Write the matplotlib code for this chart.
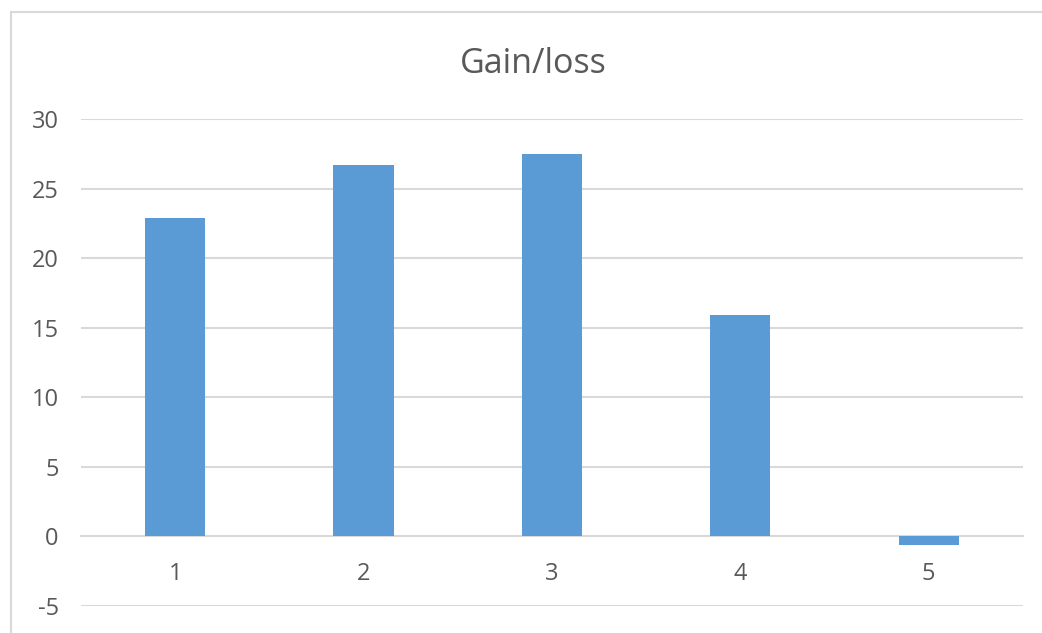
import numpy as np
import matplotlib.pyplot as plt
from matplotlib.patches import Rectangle

categories = ["1", "2", "3", "4", "5"]
values = [22.9, 26.7, 27.5, 15.9, -0.65]

plt.rcParams['font.family'] = ['Open Sans', 'DejaVu Sans']
plt.rcParams['axes.unicode_minus'] = False

fig = plt.figure(figsize=(10.42, 6.33), dpi=100)
ax = fig.add_axes([0.0777, 0.0427, 0.904, 0.7693])

x = np.arange(len(categories))
ax.bar(x, values, width=0.32, color="#5B9BD5", zorder=3)

ax.set_xlim(-0.5, len(categories) - 0.5)
ax.set_ylim(-5, 30)
ax.set_yticks(np.arange(-5, 31, 5))
ax.grid(axis="y", color="#d9d9d9", linewidth=1.5, zorder=0)
ax.set_axisbelow(True)

for s in ["top", "right", "left"]:
    ax.spines[s].set_visible(False)
ax.spines["bottom"].set_position(("data", 0))
ax.spines["bottom"].set_color("#d9d9d9")
ax.spines["bottom"].set_linewidth(1.5)

ax.set_xticks(x)
ax.set_xticklabels(categories)
ax.tick_params(axis="x", length=0, pad=18.5, labelsize=17, labelcolor="#595959")
ax.tick_params(axis="y", length=0, pad=16, labelsize=17, labelcolor="#595959")

fig.text(0.512, 1 - 73/633, "Gain/loss", ha="center", va="baseline", fontsize=24.5, color="#595959")

# chart frame
frame = Rectangle((11/1042, -0.02), 1.05, 1 - 12/633 + 0.02, transform=fig.transFigure,
                  fill=False, edgecolor="#d9d9d9", linewidth=1.5, clip_on=False)
fig.patches.append(frame)

fig.savefig("out.png", dpi=100)
